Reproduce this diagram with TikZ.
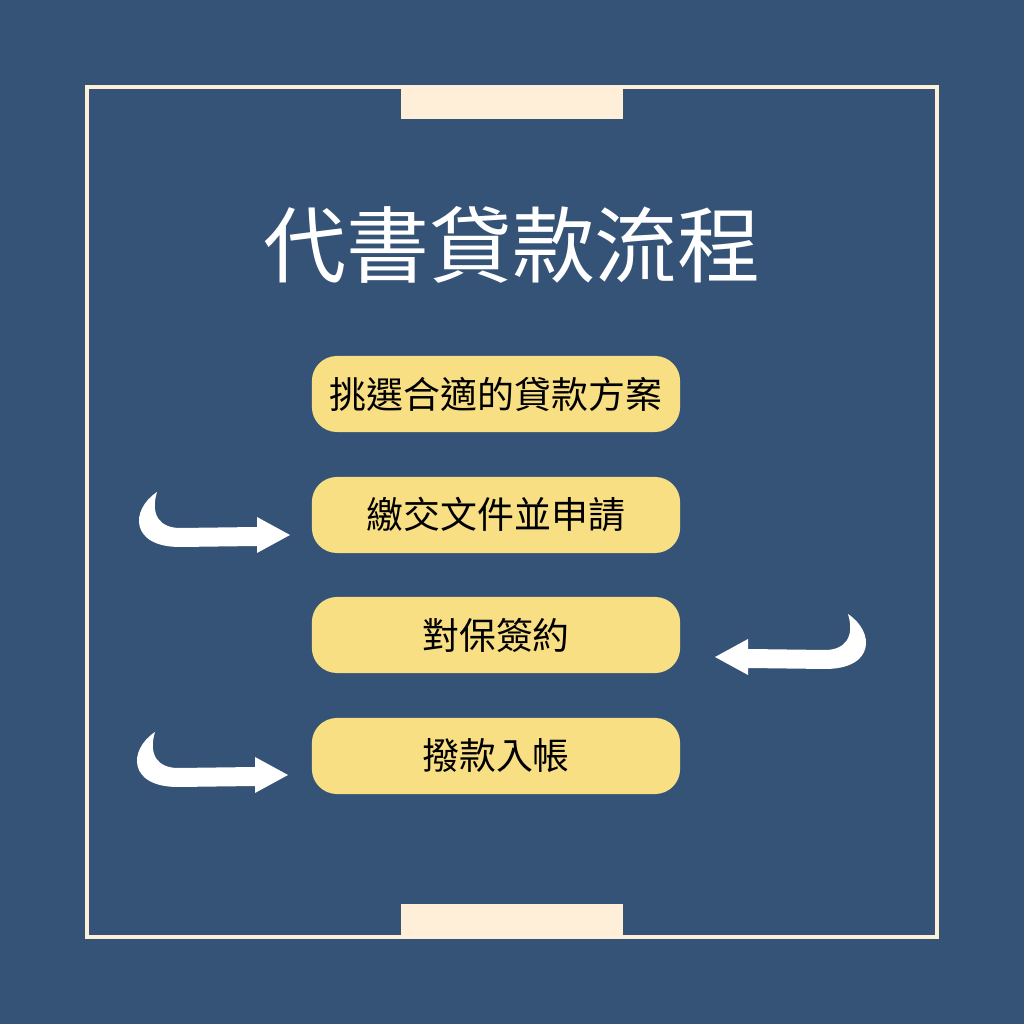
\documentclass[tikz,border=0pt]{standalone}
\usepackage{fontspec}
\newfontfamily\cjk{Noto Sans CJK TC}
\definecolor{bgblue}{RGB}{53,83,119}
\definecolor{boxyellow}{RGB}{248,223,131}
\definecolor{cream}{RGB}{255,238,216}
\tikzset{
  stepbox/.style = {fill = boxyellow, rounded corners = 0.25cm,
    minimum width = 3.68cm, minimum height = 0.76cm,
    font = \cjk\fontsize{10.5}{12}\selectfont, text = black},
  hookarrow/.pic = {
    \fill[white] (0,0) -- (-33,18) -- (-33,8) -- (-110,7)
      .. controls (-130,7) and (-140,20) .. (-133,43)
      .. controls (-160,25) and (-160,-12) .. (-110,-12)
      -- (-33,-11) -- (-33,-18) -- cycle;
  }
}
\begin{document}
\begin{tikzpicture}[x = 0.01cm, y = 0.01cm]
            \fill[bgblue] (0, 0) rectangle (1024, 1024);
            \useasboundingbox (0, 0) rectangle (1024, 1024);
            \draw[cream, line width = 0.04cm] (87, 87) rectangle (937, 937);
            \fill[cream] (401, 905) rectangle (623, 937);
            \fill[cream] (401, 87) rectangle (623, 120);
            \node[white, font = \cjk\fontsize{23.6}{28}\selectfont] (title) at (512, 779){代書貸款流程};
            \node[stepbox] (pick) at (496, 630){挑選合適的貸款方案};
            \node[stepbox] (apply) at (496, 509){繳交文件並申請};
            \node[stepbox] (sign) at (496, 389){對保簽約};
            \node[stepbox] (fund) at (496, 268){撥款入帳};
            \pic at (290, 489) {hookarrow};
            \pic[xscale = -1] at (715, 367) {hookarrow};
            \pic at (288, 249) {hookarrow};
        \end{tikzpicture}
\end{document}
